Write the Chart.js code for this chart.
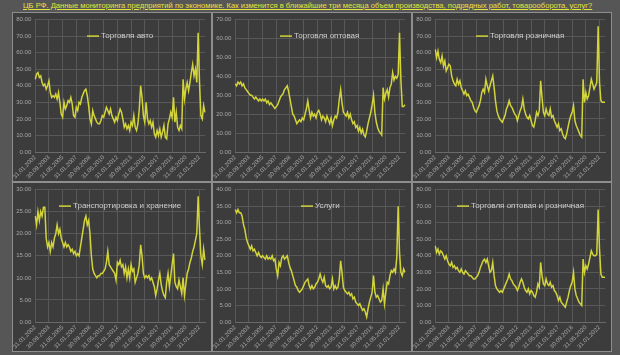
<!DOCTYPE html>
<html><head><meta charset="utf-8">
<script src="https://cdn.jsdelivr.net/npm/chart.js@4/dist/chart.umd.min.js"></script>
<style>
html,body{margin:0;padding:0;width:620px;height:355px;overflow:hidden;background:#565656;font-family:"Liberation Sans",Arial,sans-serif}
#title{position:absolute;left:23px;top:0;height:12px;line-height:12px;font-size:7.6px;color:#e6e33c;text-decoration:underline;white-space:nowrap}
.panel{position:absolute;width:200px;height:170px;background:#3c3c3c;box-sizing:border-box;border:1px solid #8e8e8e}
canvas{position:absolute}
</style>
</head><body>
<div id="title">ЦБ РФ. Данные мониторинга предприятий по экономике. Как изменится в ближайшие три месяца объем производства, подрядных работ, товарооборота, услуг?</div>
<div class="panel" style="left:12px;top:12px"></div>
<div class="panel" style="left:212px;top:12px"></div>
<div class="panel" style="left:412px;top:12px"></div>
<div class="panel" style="left:12px;top:182px"></div>
<div class="panel" style="left:212px;top:182px"></div>
<div class="panel" style="left:412px;top:182px"></div>
<canvas id="c1" width="200" height="170" style="left:12px;top:12px"></canvas>
<canvas id="c2" width="200" height="170" style="left:212px;top:12px"></canvas>
<canvas id="c3" width="200" height="170" style="left:412px;top:12px"></canvas>
<canvas id="c4" width="200" height="170" style="left:12px;top:182px"></canvas>
<canvas id="c5" width="200" height="170" style="left:212px;top:182px"></canvas>
<canvas id="c6" width="200" height="170" style="left:412px;top:182px"></canvas>
<script>
// Shown x tick labels (every 20 months)
const xTickLabels = ['31.01.2002','30.09.2003','31.05.2005','31.01.2007','30.09.2008','31.05.2010','31.01.2012','30.09.2013','31.05.2015','31.01.2017','30.09.2018','31.05.2020','31.01.2022'];

// Series names
const seriesNames = ['Торговля авто','Торговля оптовая','Торговля розничная','Транспортировка и хранение','Услуги','Торговля оптовая и розничная'];

// Values (bi-monthly, Jan 2002 .. Sep 2022)
const autoTrade = [44,47,48,45,46,42,40,41,38,40,43,36,33,34,33,35,32,36,30,23,21,30,26,28,31,30,33,29,22,21,27,25,30,29,33,35,37,38,34,28,20,17,25,22,20,18,17,17,19,22,21,24,27,25,23,26,22,20,18,21,19,23,26,24,20,15,17,14,16,13,18,16,22,15,13,17,26,40,33,22,18,30,20,17,19,15,18,11,9,13,10,14,9,12,16,9,8,17,20,24,21,33,18,24,15,13,16,14,44,32,38,42,37,42,48,53,46,50,42,72,42,22,20,28,24];
const wholesale = [36,35,37,36,37,35,36,34,33,32,31,30,30,29,28,29,28,27,28,27,28,27,28,26,27,25,26,25,24,23,24,25,27,29,30,31,33,34,35,32,28,24,20,19,17,15,16,17,16,18,17,20,23,27,22,18,21,19,20,18,21,22,20,17,19,18,16,19,17,15,18,14,17,19,18,21,28,33,26,21,20,19,21,18,20,17,15,16,13,14,11,13,10,12,9,8,11,15,18,21,25,30,21,16,13,11,10,9,34,28,31,33,29,34,36,42,38,40,39,41,63,38,24,24,25];
const retail = [62,57,61,56,54,58,52,55,49,51,53,52,46,43,41,40,44,41,43,39,37,35,37,34,35,33,31,30,27,25,24,26,28,31,36,38,36,44,40,37,40,43,46,39,31,25,22,20,19,18,20,22,26,28,31,28,27,25,23,22,19,22,25,27,32,26,23,21,20,22,19,16,15,19,24,22,25,43,33,24,22,26,23,22,26,21,22,19,17,15,17,13,14,11,9,8,11,15,19,22,24,28,19,16,14,12,10,9,44,30,36,32,34,39,44,41,38,40,42,76,42,31,30,30,30];
const transport = [24,22,25,23,25,24,26,26,19,17,18,16,18,17,19,20,22,20,21,19,18,17,18,17,17.5,17,16,16.5,15.5,16,15,15.5,15,17,19,21,23,24,22,23,20,15,12,11,10.5,10,10.5,10.5,11,11,11.5,12,13.5,16,13,12.5,12,11.5,11,9.5,13.5,13,14,12.5,13,11,12.5,10,12,10,13,11.5,12,9,10,11,13,17.5,15,11,10,10.5,10,10.5,9.5,10,9,8,6,7.5,9.5,11,8.5,7,6,5.5,9,11,8,10.5,13,15.5,9,8,7.5,9.5,8,6.5,10,6,8.5,11,12,13.5,14.5,16,17,18.5,20,28.5,21,15,13,16.5,14];
const services = [34,33,34,33,33,32,29.5,28,25.5,24,23,22,23,21.5,22,21,20,21,20,19.5,20,19.5,19,20,19,19.5,19,20,18.5,19,16,14,18,17,19.5,20,19,19.5,20,18,16.5,15.5,14,12.5,11,10.5,9.5,9,9.5,10,11,12,12.5,13,11,10,11,10,10.5,11.5,12,13,14.5,13,12,13.5,11,10.5,11,10,10.5,13,10,11,10,10.5,13,18.5,15,10.5,9.5,9,8.5,9,8,8.5,7,7.5,6,5.5,5,5.5,4.5,3.5,4,3,1.5,4,6,7.5,9,14,9,7.5,8,7,6,6.5,10,5.5,9,12,11.5,14,15.5,15,16,15,19.5,35,21,15,14,16,15];
const wholesaleRetail = [46,42,44,41,43,42,40,38,40,37,35,34,36,33,34,32,33,31,30,32,30,29,31,30,29,28,28,27,26,26,27,28,30,33,35,37,38,36,38,34,30,31,36,28,22,20,19,18,19,18,20,22,24,26,29,26,25,23,22,21,19,21,24,26,24,21,19,18,20,17,19,18,16,15,18,23,21,36,28,23,22,26,23,22,24,21,22,19,18,16,13,15,12,11,10,9,12,15,19,22,24,30,20,16,14,12,11,10,38,30,34,32,35,39,43,41,40,40,41,68,44,29,27,27,27];

// y-axis ranges per panel
const yMaxes = [80,70,80,30,40,80];
const ySteps = [10,10,10,5,5,10];

// Category labels: bi-monthly end-of-month dates
const categories = [];
for (let i = 0; i < autoTrade.length; i++) {
  const m = 2*i; const y = 2002 + Math.floor(m/12); const mo = m % 12;
  const d = new Date(y, mo+1, 0).getDate();
  categories.push(String(d).padStart(2,'0') + '.' + String(mo+1).padStart(2,'0') + '.' + y);
}

const LINE = '#d2d43a', GRID = '#585858', TICK = '#a8a8a8', LEG = '#d0d0d0';
const FONT = '"Liberation Sans", Arial, sans-serif';

const inlineLegend = {
  id: 'inlineLegend',
  afterDraw(chart) {
    const {ctx, chartArea} = chart;
    const ds = chart.data.datasets[0];
    ctx.save();
    ctx.font = '8px ' + FONT;
    const tw = ctx.measureText(ds.label).width;
    const lw = 12, gap = 2;
    const total = lw + gap + tw;
    const cx = (chartArea.left + chartArea.right) / 2;
    const y = chartArea.top + 16;
    const x = Math.round(cx - total / 2);
    ctx.strokeStyle = ds.borderColor; ctx.lineWidth = 1.5;
    ctx.beginPath(); ctx.moveTo(x, y + 0.5); ctx.lineTo(x + lw, y + 0.5); ctx.stroke();
    ctx.fillStyle = LEG; ctx.textBaseline = 'middle';
    ctx.fillText(ds.label, x + lw + gap, y);
    ctx.restore();
  }
};

const allSeries = [autoTrade, wholesale, retail, transport, services, wholesaleRetail];
allSeries.forEach((data, k) => {
  new Chart(document.getElementById('c' + (k + 1)), {
    type: 'line',
    data: { labels: categories, datasets: [{ label: seriesNames[k], data, borderColor: LINE, borderWidth: 1.5, pointRadius: 0, tension: 0, fill: false }] },
    options: {
      responsive: false, animation: false,
      layout: { padding: { left: 0, right: 7, top: 5, bottom: 2 } },
      plugins: { legend: { display: false }, tooltip: { enabled: false } },
      scales: {
        x: {
          grid: { color: GRID, drawTicks: false },
          border: { color: '#6a6a6a' },
          ticks: { autoSkip: false, minRotation: 45, maxRotation: 45, padding: 2, color: TICK, font: { size: 6, family: FONT },
            callback(v, i) { return xTickLabels.includes(categories[i]) ? categories[i] : null; } },
          afterFit(s) { s.height = 28; }
        },
        y: {
          min: 0, max: yMaxes[k],
          grid: { color: GRID, drawTicks: false },
          border: { display: false },
          ticks: { stepSize: ySteps[k], padding: 4, color: TICK, font: { size: 6, family: FONT }, callback: v => Number(v).toFixed(2) },
          afterFit(s) { s.width = 23; }
        }
      }
    },
    plugins: [inlineLegend]
  });
});
</script>
</body></html>
